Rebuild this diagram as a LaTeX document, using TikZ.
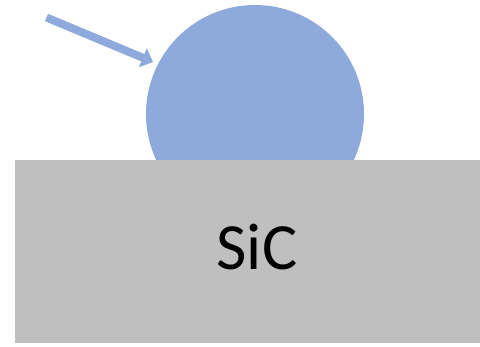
\documentclass[tikz,border=0pt]{standalone}
\usepackage{fontspec}
\newfontfamily\carlito{Carlito}
\usetikzlibrary{arrows.meta}
\definecolor{dropblue}{HTML}{8EAADC}
\definecolor{sicgray}{HTML}{BFBFBF}
\tikzset{
  drop/.style={circle, fill=dropblue, draw=none, minimum size=218pt, inner sep=0pt},
  substrate/.style={rectangle, fill=sicgray, draw=none, minimum width=465pt, minimum height=183pt, inner sep=0pt},
  beam/.style={draw=dropblue, line width=8pt, -{Triangle[length=11pt,width=20pt]}},
  bigtext/.style={font=\carlito\fontsize{66}{70}\selectfont, inner sep=0pt, anchor=base}
}
\begin{document}
\begin{tikzpicture}[x=1pt,y=1pt]
\useasboundingbox (0,0) rectangle (480,347);
\node[drop] (droplet) at (255,233) {};
\node[substrate] (sic) at (247.5,95.5) {};
\node[bigtext] (siclabel) at (257,77) {SiC};
\coordinate (start) at (46.5,329.5);
\coordinate (tip) at (153,285);
\draw[beam] (start) -- (tip);
\end{tikzpicture}
\end{document}
